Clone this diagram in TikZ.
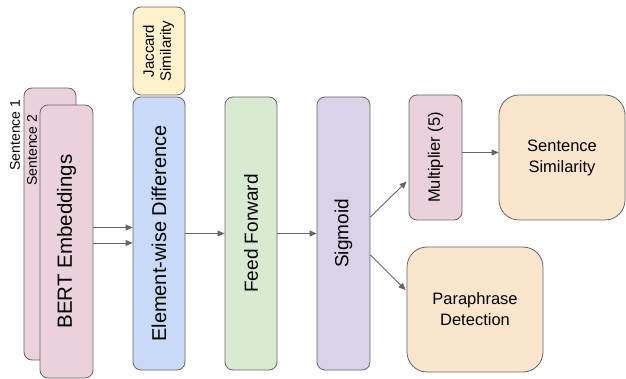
\documentclass[tikz,border=0pt]{standalone}
\usepackage{fontspec}
\setmainfont{Liberation Sans}
\usetikzlibrary{arrows.meta}

\definecolor{pinkfill}{HTML}{EAD1DC}
\definecolor{bluefill}{HTML}{C9DAF8}
\definecolor{greenfill}{HTML}{D9EAD3}
\definecolor{purplefill}{HTML}{D9D2E9}
\definecolor{yellowfill}{HTML}{FFF2CC}
\definecolor{orangefill}{HTML}{FCE5CD}
\definecolor{edgegray}{HTML}{666666}

\begin{document}
\begin{tikzpicture}[x=1pt,y=-1pt,
    block/.style={draw=edgegray, line width=0.8pt, rounded corners=8pt, inner sep=0pt, align=center},
    bigblock/.style={block, rounded corners=20pt},
    flow/.style={draw=edgegray, line width=0.9pt, -{Triangle[length=7pt,width=6pt]}}]
    \useasboundingbox (0,0) rectangle (626,379);

    % input embeddings (two stacked sheets)
    \node[block, fill=pinkfill, minimum width=52pt, minimum height=272pt] (sentA) at (50,224) {};
    \node[rotate=90, font=\fontsize{14}{16}\selectfont] (labA) at (15,135) {Sentence 1};
    \node[rotate=90, font=\fontsize{14}{16}\selectfont] (labB) at (32,150) {Sentence 2};
    \node[block, fill=pinkfill, minimum width=53pt, minimum height=273pt, font=\fontsize{20.5}{24}\selectfont] (bert) at (66.5,241.5) {\rotatebox{90}{BERT Embeddings}};

    % middle stages
    \node[block, fill=yellowfill, minimum width=52pt, minimum height=88pt, font=\fontsize{15}{17}\selectfont] (jac) at (159,51) {\rotatebox{90}{\begin{tabular}{@{}c@{}}Jaccard\\Similarity\end{tabular}}};
    \node[block, fill=bluefill, minimum width=52pt, minimum height=273pt, font=\fontsize{20}{24}\selectfont] (diff) at (159,233.5) {\rotatebox{90}{Element-wise Difference}};
    \node[block, fill=greenfill, minimum width=52pt, minimum height=273pt, font=\fontsize{19}{22}\selectfont] (ff) at (251,233.5) {\rotatebox{90}{Feed Forward}};
    \node[block, fill=purplefill, minimum width=53pt, minimum height=273pt, font=\fontsize{19}{22}\selectfont] (sig) at (343.5,233.5) {\rotatebox{90}{Sigmoid}};

    % outputs
    \node[block, fill=pinkfill, minimum width=53pt, minimum height=125pt, font=\fontsize{16.5}{20}\selectfont] (mult) at (435.5,157.5) {\rotatebox{90}{Multiplier (5)}};
    \node[bigblock, fill=orangefill, minimum width=126pt, minimum height=125pt, font=\fontsize{16.5}{21}\selectfont] (sim) at (562,157.5) {Sentence\\Similarity};
    \node[bigblock, fill=orangefill, minimum width=136pt, minimum height=125pt, font=\fontsize{16.5}{21}\selectfont] (para) at (475,309.5) {Paraphrase\\Detection};

    % connectors
    \draw[flow] ([yshift=14pt]bert.east) -- ([yshift=14pt]bert.east -| diff.west);
    \draw[flow] ([yshift=-1.5pt]bert.east) -- ([yshift=-1.5pt]bert.east -| diff.west);
    \draw[flow] (diff.east) -- (ff.west);
    \draw[flow] (ff.east) -- (sig.west);
    \draw[flow] ([yshift=16.5pt]sig.east) -- ([xshift=-2pt,yshift=-24pt]mult.west);
    \draw[flow] ([yshift=-21.5pt]sig.east) -- ([xshift=-1pt,yshift=19.5pt]para.west);
    \draw[flow] ([yshift=5pt]mult.east) -- ([yshift=5pt]mult.east -| sim.west);
\end{tikzpicture}
\end{document}
